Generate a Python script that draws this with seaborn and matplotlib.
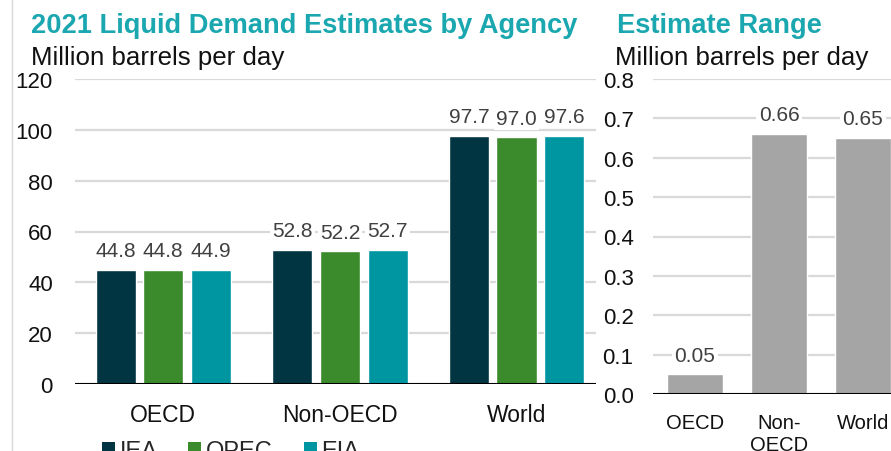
import matplotlib
matplotlib.use("Agg")
import matplotlib.pyplot as plt
import seaborn as sns
import pandas as pd
from matplotlib.patches import Patch

# ---- data ----
categories = ["OECD", "Non-OECD", "World"]
agencies = ["IEA", "OPEC", "EIA"]
iea = [44.8, 52.8, 97.7]
opec = [44.8, 52.2, 97.0]
eia = [44.9, 52.7, 97.6]
range_categories = ["OECD", "Non-\nOECD", "World"]
range_values = [0.05, 0.66, 0.65]
left_yticks = [0, 20, 40, 60, 80, 100, 120]
right_yticks = [0.0, 0.1, 0.2, 0.3, 0.4, 0.5, 0.6, 0.7, 0.8]

colors = {"IEA": "#003541", "OPEC": "#3b8a2c", "EIA": "#0096a1"}
teal = "#1aa7b0"
grid_c = "#d9d9d9"
label_c = "#404040"

sns.set_theme(style="white")
plt.rcParams["font.family"] = ["Liberation Sans", "DejaVu Sans"]

df = pd.DataFrame({
    "Region": categories * 3,
    "Agency": [a for a in agencies for _ in categories],
    "Value": iea + opec + eia,
})
df_r = pd.DataFrame({"Region": range_categories, "Value": range_values})

W, H = 891, 452
fig = plt.figure(figsize=(W / 100, H / 100), dpi=100)
ax1 = fig.add_axes([75 / W, 1 - 385 / H, (596 - 75) / W, (385 - 80) / H])
ax2 = fig.add_axes([653 / W, 1 - 395 / H, (905 - 653) / W, (395 - 80) / H])

# ---- left panel ----
sns.barplot(data=df, x="Region", y="Value", hue="Agency", hue_order=agencies,
            palette=colors, width=0.81, gap=0.16, saturation=1, ax=ax1,
            legend=False, zorder=3)
ax1.set_xlim(-0.5, 2.45)
ax1.set_ylim(0, 120)
ax1.set_yticks(left_yticks)
ax1.set_yticklabels([str(t) for t in left_yticks])
for c in ax1.containers:
    ax1.bar_label(c, fmt="%.1f", padding=7, fontsize=15, color=label_c,
                  bbox=dict(facecolor="white", edgecolor="none", pad=1.5), zorder=4)

# ---- right panel ----
sns.barplot(data=df_r, x="Region", y="Value", color="#a5a5a5", width=0.667,
            saturation=1, ax=ax2, zorder=3)
ax2.set_xlim(-0.5, 2.5)
ax2.set_ylim(0, 0.8)
ax2.set_yticks(right_yticks)
ax2.set_yticklabels([f"{t:.1f}" for t in right_yticks])
for c in ax2.containers:
    ax2.bar_label(c, fmt="%.2f", padding=7, fontsize=15, color=label_c,
                  bbox=dict(facecolor="white", edgecolor="none", pad=2), zorder=4)

for ax, pad_y, pad_x, xfs in [(ax1, 16, 14, 16.5), (ax2, 14, 13.5, 14.5)]:
    ax.set_xlabel("")
    ax.set_ylabel("")
    for s in ax.spines.values():
        s.set_visible(False)
    ax.grid(axis="y", color=grid_c, linewidth=1.6, zorder=0)
    ax.grid(axis="x", visible=False)
    ax.set_axisbelow(True)
    ax.axhline(0, color="black", linewidth=2.2, zorder=5)
    ax.tick_params(axis="y", length=0, pad=pad_y, labelsize=16, labelcolor="#111111")
    ax.tick_params(axis="x", length=0, pad=pad_x, labelsize=xfs, labelcolor="#111111")
    ax.patch.set_alpha(0)

# ---- titles ----
fig.text(31 / W, 1 - 33 / H, "2021 Liquid Demand Estimates by Agency", color=teal,
         fontsize=19.6, fontweight="bold", va="baseline", ha="left")
fig.text(31 / W, 1 - 65 / H, "Million barrels per day", color="#111111",
         fontsize=18.6, va="baseline", ha="left")
fig.text(617 / W, 1 - 33 / H, "Estimate Range", color=teal,
         fontsize=19.6, fontweight="bold", va="baseline", ha="left")
fig.text(615 / W, 1 - 65 / H, "Million barrels per day", color="#111111",
         fontsize=18.6, va="baseline", ha="left")

# ---- legend ----
handles = [Patch(facecolor=colors[a], edgecolor="none") for a in agencies]
fig.legend(handles, agencies, loc="upper left", bbox_to_anchor=(102 / W, 1 - 441 / H),
           ncol=3, frameon=False, fontsize=17, handlelength=0.55, handleheight=0.55,
           handletextpad=0.2, columnspacing=1.3, borderpad=0, borderaxespad=0)

# left border line
fig.add_artist(plt.Line2D([12 / W, 12 / W], [0, 1], color="#d9d9d9", linewidth=1,
                          transform=fig.transFigure))

fig.savefig("out.png", dpi=100, facecolor="white")
